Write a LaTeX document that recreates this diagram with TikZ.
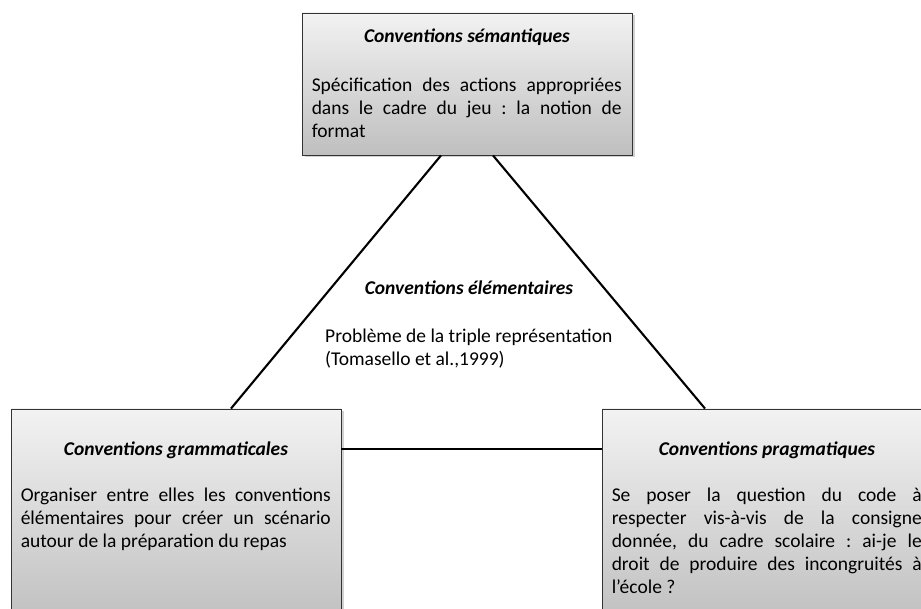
\documentclass[tikz,border=0pt]{standalone}
\usepackage{fontspec}
\setmainfont{Carlito}
\frenchspacing
\usetikzlibrary{shadows, positioning}

\tikzset{
  conv/.style={rectangle, draw=black!80, line width=0.9pt, top color=black!5, bottom color=black!25,
    minimum width=330pt, drop shadow={shadow xshift=2.5pt, shadow yshift=-2.5pt, fill=black!40, opacity=0.45}},
  convtitle/.style={font=\fontsize{19.5}{23}\selectfont\bfseries\itshape, inner sep=0pt, anchor=base},
  convtext/.style={font=\fontsize{19.5}{23}\selectfont, text width=310pt, align=justify,
    inner sep=0pt, anchor=north west, execute at begin node=\strut},
  elemtext/.style={font=\fontsize{19.5}{23}\selectfont, align=left, inner sep=0pt, anchor=north west,
    execute at begin node=\strut},
  link/.style={line width=2.1pt}
}

\begin{document}
\begin{tikzpicture}[x=1pt, y=-1pt]
  \useasboundingbox (0,0) rectangle (921,609);
  \clip (0,0) rectangle (921,609);

  % The three boxes
  \node[conv, minimum height=142pt] (sem) at (467,84) {};
  \node[conv, minimum height=215pt] (gram) at (176,516.5) {};
  \node[conv, minimum height=215pt] (prag) at (767,516.5) {};

  % Triangle
  \draw[link] ([xshift=-26pt]sem.south) -- ([xshift=55pt]gram.north);
  \draw[link] ([xshift=26pt]sem.south) -- ([xshift=-62pt]prag.north);
  \draw[link] ([yshift=-40pt]gram.north east) -- ([yshift=-40pt]prag.north west);

  % Semantic conventions
  \node[convtitle] (semtitle) at ([yshift=-30pt]sem.north) {Conventions sémantiques};
  \node[convtext] (semtext) at ([xshift=10pt,yshift=-63pt]sem.north west)
    {Spécification des actions appropriées\linebreak dans le cadre du jeu : la notion de\linebreak format};

  % Grammatical conventions
  \node[convtitle] (gramtitle) at ([yshift=-47pt]gram.north) {Conventions grammaticales};
  \node[convtext] (gramtext) at ([xshift=10pt,yshift=-77pt]gram.north west)
    {Organiser entre elles les conventions\linebreak élémentaires pour créer un scénario\linebreak autour de la préparation du repas};

  % Pragmatic conventions
  \node[convtitle] (pragtitle) at ([yshift=-47pt]prag.north) {Conventions pragmatiques};
  \node[convtext] (pragtext) at ([xshift=10pt,yshift=-77pt]prag.north west)
    {Se poser la question du code à\linebreak respecter vis-à-vis de la consigne\linebreak donnée, du cadre scolaire : ai-je le\linebreak droit de produire des incongruités à\linebreak l’école ?};

  % Elementary conventions, inside the triangle
  \node[convtitle] (elemtitle) at (469,295) {Conventions élémentaires};
  \node[elemtext] (elemtext) at (325,329) {Problème de la triple représentation\\(Tomasello et al.,1999)};
\end{tikzpicture}
\end{document}
